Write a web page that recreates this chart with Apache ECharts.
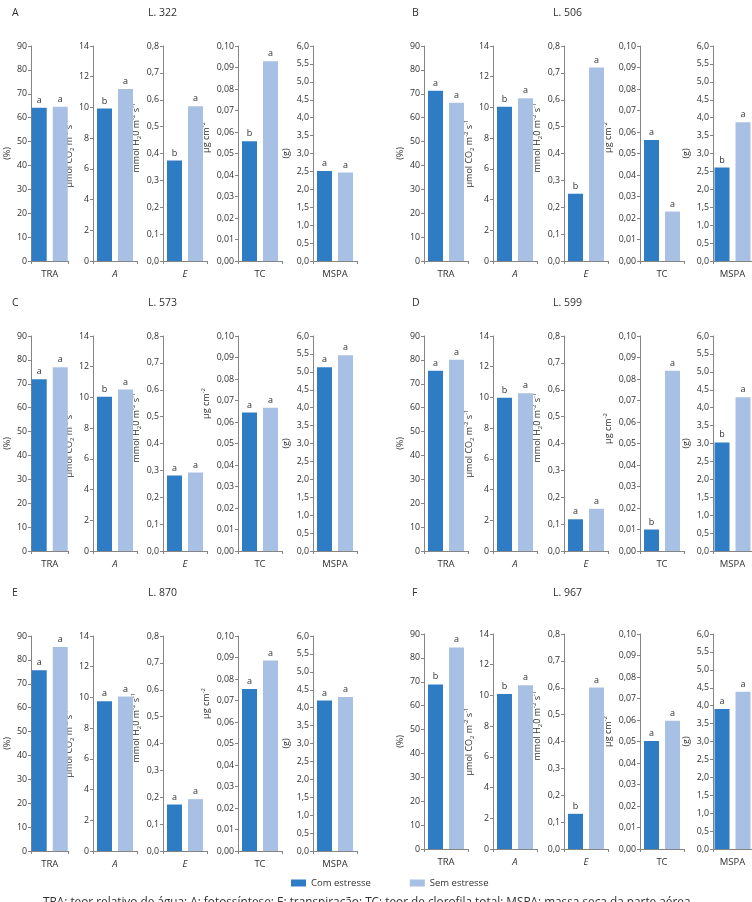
<!DOCTYPE html>
<html>
<head>
<meta charset="utf-8">
<script src="https://cdn.jsdelivr.net/npm/echarts@6/dist/echarts.min.js"></script>
<style>
  html, body { margin: 0; padding: 0; background: #fff; }
  #main { width: 752px; height: 902px; }
</style>
</head>
<body>
<div id="main"></div>
<script type="text/javascript">
// dados: 6 linhagens x 5 variaveis
var panelLetters = ['A', 'B', 'C', 'D', 'E', 'F'];
var lineNames = ['L. 322', 'L. 506', 'L. 573', 'L. 599', 'L. 870', 'L. 967'];
var variables = ['TRA', 'A', 'E', 'TC', 'MSPA'];
var yMax = [90, 14, 0.8, 0.10, 6.0];
var yStep = [10, 2, 0.1, 0.01, 0.5];
var yDecimals = [0, 0, 1, 2, 1];
var yUnits = ['(%)', 'μmol CO{sub|2} m{sup|-2} s{sup|-1}', 'mmol H{sub|2}0 m{sup|-2} s{sup|-1}', 'μg cm{sup|-2}', '(g)'];

var comEstresse = [
    [64.2, 9.93, 0.374, 0.0557, 2.51],
    [71.3, 10.04, 0.25, 0.0563, 2.61],
    [71.9, 10.04, 0.281, 0.0644, 5.13],
    [75.5, 9.98, 0.118, 0.0100, 3.03],
    [75.7, 9.75, 0.173, 0.0754, 4.2],
    [68.9, 10.1, 0.131, 0.0502, 3.91]
];
var semEstresse = [
    [64.6, 11.2, 0.576, 0.0929, 2.47],
    [66.2, 10.6, 0.72, 0.023, 3.87],
    [76.9, 10.52, 0.292, 0.0666, 5.46],
    [80.1, 10.28, 0.157, 0.0838, 4.29],
    [85.4, 10.06, 0.193, 0.0886, 4.3],
    [84.4, 10.67, 0.601, 0.0597, 4.39]
];
var letrasCom = [
    ['a', 'b', 'b', 'b', 'a'],
    ['a', 'b', 'b', 'a', 'b'],
    ['a', 'b', 'a', 'a', 'a'],
    ['a', 'b', 'a', 'b', 'b'],
    ['a', 'a', 'a', 'a', 'a'],
    ['b', 'b', 'b', 'a', 'a']
];
var letrasSem = [
    ['a', 'a', 'a', 'a', 'a'],
    ['a', 'a', 'a', 'a', 'a'],
    ['a', 'a', 'a', 'a', 'a'],
    ['a', 'a', 'a', 'a', 'a'],
    ['a', 'a', 'a', 'a', 'a'],
    ['a', 'a', 'a', 'a', 'a']
];
var caption = 'TRA: teor relativo de água; A: fotossíntese; E: transpiração; TC: teor de clorofila total; MSPA: massa seca da parte aérea';

// layout
var fontFamily = "'Open Sans', 'DejaVu Sans', sans-serif";
var corEscura = '#2e7dc4';
var corClara = '#a9c0e5';
var corEixo = '#858585';
var corTexto = '#303030';
var colLeft = [[24.5, 93, 163, 238, 313], [424, 493, 564, 640, 713]];
var rowTop = [[46, 46], [336, 336], [636, 634]];
var titleTop = [8, 298, 588];
var nameGaps = [14, 12, 17, 22, 16];
var nameShift = [0, 0, 16, 16, 0];
var tcShift = [16, 16, 40, 15, 40, 10];

var grids = [], xAxes = [], yAxes = [], series = [], titles = [];

for (var p = 0; p < 6; p++) {
    var row = Math.floor(p / 2), col = p % 2;
    titles.push({ text: panelLetters[p], left: col ? 412 : 12, top: titleTop[row], padding: 0,
        textStyle: { fontSize: 10.5, fontWeight: 'normal', color: corTexto, fontFamily: fontFamily } });
    titles.push({ text: lineNames[p], left: col ? 553 : 148, top: titleTop[row], padding: 0,
        textStyle: { fontSize: 10.5, fontWeight: 'normal', color: corTexto, fontFamily: fontFamily } });

    for (var v = 0; v < 5; v++) {
        var idx = p * 5 + v;
        var shift = v === 3 ? tcShift[p] : nameShift[v];
        grids.push({ left: colLeft[col][v], top: rowTop[row][col], width: 44, height: 215 });
        xAxes.push({
            gridIndex: idx, type: 'category', data: [variables[v]],
            axisLine: { lineStyle: { color: corEixo, width: 1 } },
            axisTick: { show: true, length: 3, lineStyle: { color: corEixo } },
            axisLabel: { margin: 8, fontSize: 9.5, color: corTexto, fontFamily: fontFamily,
                fontStyle: (v === 1 || v === 2) ? 'italic' : 'normal' }
        });
        yAxes.push({
            gridIndex: idx, type: 'value', min: 0, max: yMax[v], interval: yStep[v],
            splitLine: { show: false },
            axisLine: { show: true, lineStyle: { color: corEixo, width: 1 } },
            axisTick: { show: true, length: 3, lineStyle: { color: corEixo } },
            axisLabel: {
                margin: 4, fontSize: 8.8, color: corTexto, fontFamily: fontFamily,
                formatter: (function (d) {
                    return function (val) { return val.toFixed(d).replace('.', ','); };
                })(yDecimals[v])
            },
            name: yUnits[v], nameLocation: 'middle', nameRotate: 90, nameGap: nameGaps[v],
            nameTextStyle: {
                fontSize: 9, color: corTexto, fontFamily: fontFamily, lineHeight: 12,
                padding: [0, 0, 0, shift * 2],
                rich: {
                    sub: { fontSize: 6, color: corTexto, fontFamily: fontFamily, verticalAlign: 'bottom' },
                    sup: { fontSize: 6, color: corTexto, fontFamily: fontFamily, verticalAlign: 'top' }
                }
            }
        });
        series.push({
            name: 'Com estresse', type: 'bar', xAxisIndex: idx, yAxisIndex: idx,
            barWidth: 15, barGap: '40%',
            itemStyle: { color: corEscura },
            label: { show: true, position: 'top', distance: 3, fontSize: 9, color: corTexto,
                fontFamily: fontFamily, formatter: letrasCom[p][v] },
            data: [comEstresse[p][v]]
        });
        series.push({
            name: 'Sem estresse', type: 'bar', xAxisIndex: idx, yAxisIndex: idx,
            barWidth: 15, barGap: '40%',
            itemStyle: { color: corClara },
            label: { show: true, position: 'top', distance: 3, fontSize: 9, color: corTexto,
                fontFamily: fontFamily, formatter: letrasSem[p][v] },
            data: [semEstresse[p][v]]
        });
    }
}

// legenda da figura (cortada na borda de baixo)
titles.push({ text: caption, left: 43, top: 897, padding: 0,
    textStyle: { fontSize: 11.8, fontWeight: 'normal', color: corTexto, fontFamily: fontFamily } });

var myChart = echarts.init(document.getElementById('main'));
var option = {
    animation: false,
    backgroundColor: '#ffffff',
    title: titles,
    legend: {
        data: ['Com estresse', 'Sem estresse'],
        left: 286, top: 873,
        icon: 'rect', itemWidth: 15, itemHeight: 7, itemGap: 39,
        selectedMode: false,
        textStyle: { fontSize: 9.5, color: corTexto, fontFamily: fontFamily }
    },
    grid: grids,
    xAxis: xAxes,
    yAxis: yAxes,
    series: series
};
myChart.setOption(option);
</script>
</body>
</html>
